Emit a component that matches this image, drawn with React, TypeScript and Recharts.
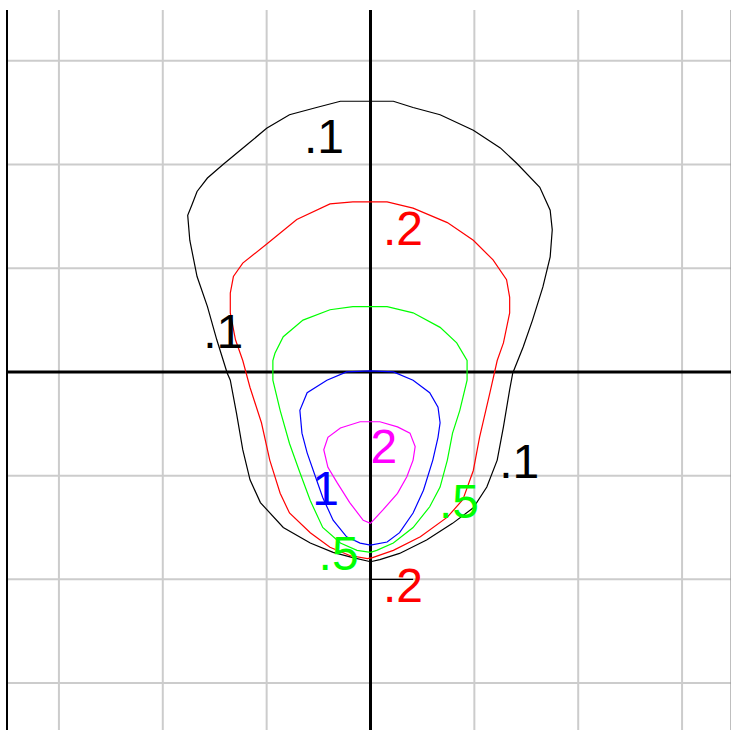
import { ComposedChart, Line, Scatter, XAxis, YAxis, ReferenceLine } from 'recharts';

// contour levels, traced clockwise from the top of each loop
const contour01 = [
  { x: 0, y: 2.61 }, { x: 0.22, y: 2.61 }, { x: 0.41, y: 2.55 }, { x: 0.67, y: 2.48 },
  { x: 0.99, y: 2.33 }, { x: 1.25, y: 2.16 }, { x: 1.41, y: 2.01 }, { x: 1.63, y: 1.78 },
  { x: 1.73, y: 1.56 }, { x: 1.75, y: 1.37 }, { x: 1.73, y: 1.11 }, { x: 1.66, y: 0.82 },
  { x: 1.56, y: 0.5 }, { x: 1.47, y: 0.24 }, { x: 1.37, y: -0.01 }, { x: 1.34, y: -0.17 },
  { x: 1.28, y: -0.53 }, { x: 1.22, y: -0.85 }, { x: 1.12, y: -1.11 }, { x: 0.99, y: -1.31 },
  { x: 0.79, y: -1.46 }, { x: 0.54, y: -1.62 }, { x: 0.28, y: -1.75 }, { x: 0.09, y: -1.81 },
  { x: 0, y: -1.83 }, { x: -0.17, y: -1.79 }, { x: -0.36, y: -1.74 }, { x: -0.58, y: -1.65 },
  { x: -0.84, y: -1.5 }, { x: -1.06, y: -1.26 }, { x: -1.16, y: -1.04 }, { x: -1.23, y: -0.75 },
  { x: -1.29, y: -0.4 }, { x: -1.35, y: -0.08 }, { x: -1.38, y: -0.01 }, { x: -1.48, y: 0.31 },
  { x: -1.57, y: 0.63 }, { x: -1.67, y: 0.92 }, { x: -1.74, y: 1.27 }, { x: -1.76, y: 1.51 },
  { x: -1.72, y: 1.61 }, { x: -1.67, y: 1.74 }, { x: -1.57, y: 1.87 }, { x: -1.42, y: 2.0 },
  { x: -1.19, y: 2.19 }, { x: -1.0, y: 2.35 }, { x: -0.78, y: 2.48 }, { x: -0.52, y: 2.55 },
  { x: -0.29, y: 2.61 }, { x: 0, y: 2.61 },
];

const contour02 = [
  { x: 0, y: 1.64 }, { x: 0.16, y: 1.64 }, { x: 0.41, y: 1.58 }, { x: 0.74, y: 1.44 },
  { x: 0.99, y: 1.27 }, { x: 1.18, y: 1.08 }, { x: 1.31, y: 0.89 }, { x: 1.34, y: 0.72 },
  { x: 1.34, y: 0.57 }, { x: 1.28, y: 0.28 }, { x: 1.22, y: 0.11 }, { x: 1.15, y: -0.2 },
  { x: 1.05, y: -0.63 }, { x: 0.99, y: -0.95 }, { x: 0.89, y: -1.23 }, { x: 0.74, y: -1.4 },
  { x: 0.48, y: -1.59 }, { x: 0.22, y: -1.72 }, { x: 0.02, y: -1.79 }, { x: -0.03, y: -1.8 },
  { x: -0.2, y: -1.77 }, { x: -0.39, y: -1.69 }, { x: -0.58, y: -1.55 }, { x: -0.78, y: -1.36 },
  { x: -0.87, y: -1.17 }, { x: -0.97, y: -0.85 }, { x: -1.05, y: -0.49 }, { x: -1.16, y: -0.15 },
  { x: -1.23, y: 0.11 }, { x: -1.3, y: 0.31 }, { x: -1.35, y: 0.57 }, { x: -1.35, y: 0.76 },
  { x: -1.32, y: 0.92 }, { x: -1.23, y: 1.05 }, { x: -0.99, y: 1.24 }, { x: -0.71, y: 1.47 },
  { x: -0.39, y: 1.62 }, { x: -0.17, y: 1.64 }, { x: 0, y: 1.64 },
];

const contour05 = [
  { x: 0, y: 0.63 }, { x: 0.16, y: 0.63 }, { x: 0.41, y: 0.57 }, { x: 0.67, y: 0.43 },
  { x: 0.83, y: 0.28 }, { x: 0.93, y: 0.11 }, { x: 0.93, y: -0.08 }, { x: 0.86, y: -0.37 },
  { x: 0.79, y: -0.59 }, { x: 0.74, y: -0.85 }, { x: 0.67, y: -1.11 }, { x: 0.57, y: -1.3 },
  { x: 0.41, y: -1.5 }, { x: 0.22, y: -1.65 }, { x: 0.06, y: -1.72 }, { x: 0, y: -1.74 },
  { x: -0.13, y: -1.72 }, { x: -0.29, y: -1.65 }, { x: -0.46, y: -1.5 }, { x: -0.58, y: -1.24 },
  { x: -0.68, y: -0.97 }, { x: -0.78, y: -0.69 }, { x: -0.87, y: -0.37 }, { x: -0.94, y: -0.08 },
  { x: -0.94, y: 0.11 }, { x: -0.92, y: 0.18 }, { x: -0.84, y: 0.34 }, { x: -0.65, y: 0.5 },
  { x: -0.39, y: 0.6 }, { x: -0.17, y: 0.63 }, { x: 0, y: 0.63 },
];

const contour1 = [
  { x: 0, y: 0.01 }, { x: 0.22, y: 0 }, { x: 0.41, y: -0.08 }, { x: 0.57, y: -0.2 },
  { x: 0.65, y: -0.34 }, { x: 0.67, y: -0.49 }, { x: 0.65, y: -0.63 }, { x: 0.6, y: -0.85 },
  { x: 0.51, y: -1.14 }, { x: 0.41, y: -1.36 }, { x: 0.28, y: -1.55 }, { x: 0.16, y: -1.64 },
  { x: 0, y: -1.67 }, { x: -0.1, y: -1.65 }, { x: -0.23, y: -1.59 }, { x: -0.36, y: -1.43 },
  { x: -0.46, y: -1.21 }, { x: -0.53, y: -1.01 }, { x: -0.61, y: -0.78 }, { x: -0.66, y: -0.59 },
  { x: -0.68, y: -0.37 }, { x: -0.61, y: -0.2 }, { x: -0.42, y: -0.08 }, { x: -0.23, y: 0 },
  { x: 0, y: 0.01 },
];

const contour2 = [
  { x: 0, y: -0.48 }, { x: 0.09, y: -0.48 }, { x: 0.26, y: -0.53 }, { x: 0.38, y: -0.59 },
  { x: 0.43, y: -0.72 }, { x: 0.41, y: -0.85 }, { x: 0.35, y: -1.01 }, { x: 0.26, y: -1.17 },
  { x: 0.12, y: -1.33 }, { x: 0, y: -1.46 }, { x: -0.07, y: -1.43 }, { x: -0.2, y: -1.26 },
  { x: -0.32, y: -1.07 }, { x: -0.41, y: -0.92 }, { x: -0.45, y: -0.75 }, { x: -0.41, y: -0.63 },
  { x: -0.29, y: -0.54 }, { x: -0.1, y: -0.48 }, { x: 0, y: -0.48 },
];

const stub = [{ x: 0, y: -2 }, { x: 0.41, y: -2 }];

const labels = [
  { x: -0.64, y: 2.11, text: '.1', color: '#000000' },
  { x: 0.12, y: 1.22, text: '.2', color: '#ff0000' },
  { x: -1.61, y: 0.23, text: '.1', color: '#000000' },
  { x: 0.0, y: -0.88, text: '2', color: '#ff00ff' },
  { x: -0.56, y: -1.28, text: '1', color: '#0000ff' },
  { x: 1.24, y: -1.02, text: '.1', color: '#000000' },
  { x: 0.66, y: -1.41, text: '.5', color: '#00ff00' },
  { x: -0.5, y: -1.91, text: '.5', color: '#00ff00' },
  { x: 0.12, y: -2.22, text: '.2', color: '#ff0000' },
];

const gridTicks = [-3, -2, -1, 1, 2, 3];

const LabelText = (props: any) => {
  const { cx, cy, payload } = props;
  return (
    <text x={cx} y={cy} fill={payload.color} fontSize={48} fontFamily="'Liberation Sans', Arial, sans-serif">
      {payload.text}
    </text>
  );
};

export default function App() {
  return (
    <div style={{ position: 'fixed', left: 0, top: 0, width: 731, height: 730, overflow: 'hidden', background: '#fff' }}>
      <ComposedChart width={734} height={737} margin={{ top: 10, right: 0, bottom: 0, left: 7 }}>
        <XAxis type="number" dataKey="x" domain={[-3.5, 3.5]} hide allowDataOverflow />
        <YAxis type="number" dataKey="y" domain={[-3.52, 3.49]} hide allowDataOverflow />
        {gridTicks.map((t) => (
          <ReferenceLine key={'v' + t} x={t} stroke="#cccccc" strokeWidth={2} />
        ))}
        {gridTicks.map((t) => (
          <ReferenceLine key={'h' + t} y={t} stroke="#cccccc" strokeWidth={2} />
        ))}
        <ReferenceLine x={3.47} stroke="#999999" strokeWidth={1} />
        <ReferenceLine x={-3.5} stroke="#000" strokeWidth={2} />
        <ReferenceLine x={0} stroke="#000" strokeWidth={3} />
        <ReferenceLine y={0} stroke="#000" strokeWidth={3} />
        <Line data={contour01} dataKey="y" stroke="#000000" strokeWidth={1.2} dot={false} isAnimationActive={false} />
        <Line data={contour02} dataKey="y" stroke="#ff0000" strokeWidth={1.2} dot={false} isAnimationActive={false} />
        <Line data={contour05} dataKey="y" stroke="#00ff00" strokeWidth={1.2} dot={false} isAnimationActive={false} />
        <Line data={contour1} dataKey="y" stroke="#0000ff" strokeWidth={1.2} dot={false} isAnimationActive={false} />
        <Line data={contour2} dataKey="y" stroke="#ff00ff" strokeWidth={1.2} dot={false} isAnimationActive={false} />
        <Line data={stub} dataKey="y" stroke="#000000" strokeWidth={1.2} dot={false} isAnimationActive={false} />
        <Scatter data={labels} shape={LabelText} isAnimationActive={false} />
      </ComposedChart>
    </div>
  );
}
